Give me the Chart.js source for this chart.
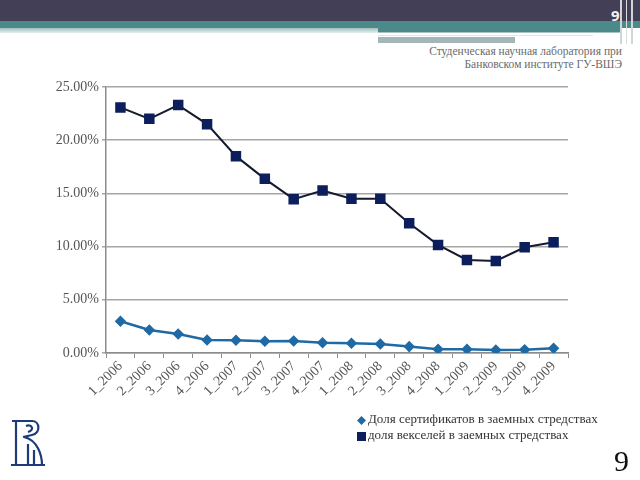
<!DOCTYPE html>
<html>
<head>
<meta charset="utf-8">
<script src="https://cdn.jsdelivr.net/npm/chart.js@4.4.1/dist/chart.umd.min.js"></script>
<style>
  html, body { margin: 0; padding: 0; background: #fff; }
  #page { position: relative; width: 640px; height: 480px; overflow: hidden; font-family: "Liberation Serif", "DejaVu Serif", serif; }
  .band { position: absolute; }
  #chart { position: absolute; left: 0; top: 0; }
  #caption { position: absolute; right: 18px; top: 45px; text-align: right; font-size: 11.5px; line-height: 13px; color: #6b6b6b; }
  #legend { position: absolute; left: 357px; top: 411px; font-size: 13px; line-height: 16px; color: #333; }
  #legend .mk { display: inline-block; margin-right: 2px; vertical-align: middle; }
  #num-top { position: absolute; left: 611px; top: 5px; color: #f0f0f0; font-family: "Open Sans", sans-serif; font-weight: bold; font-size: 15px; }
  #num-bottom { position: absolute; left: 614px; top: 444px; color: #111; font-size: 30px; }
</style>
</head>
<body>
<div id="page">
  <div class="band" style="left:0;top:0;width:640px;height:21px;background:#423f56"></div>
  <div class="band" style="left:0;top:21px;width:640px;height:7px;background:#4b8a88"></div>
  <div class="band" style="left:0;top:28px;width:378px;height:5px;background:linear-gradient(#9cc0bf,#e6efee)"></div>
  <div class="band" style="left:378px;top:28px;width:242px;height:4px;background:#4b8a88"></div>
  <div class="band" style="left:378px;top:32px;width:242px;height:1px;background:#a9c3c2"></div>
  <div class="band" style="left:378px;top:35px;width:215px;height:1px;background:#dfe8e8"></div>
  <div class="band" style="left:378px;top:37px;width:137px;height:6px;background:#a3b7b9"></div>
  <div class="band" style="left:620px;top:0;width:2px;height:44px;background:#cfd6d6"></div>
  <div class="band" style="left:626px;top:0;width:1px;height:44px;background:#d8dddd"></div>
  <div class="band" style="left:631px;top:0;width:2px;height:44px;background:#d0d6d6"></div>
  <div id="num-top">9</div>
  <div id="caption">Студенческая научная лаборатория при<br>Банковском институте ГУ-ВШЭ</div>

  <svg style="position:absolute;left:8px;top:418px" width="40" height="50" viewBox="0 0 40 50">
    <g fill="none" stroke="#1d3a7a" stroke-width="2.2">
      <path d="M4 3 H24 C32 3 33 15 24 17 L15 19"/>
      <path d="M8 3 V47"/>
      <path d="M16 19 C30 22 34 38 34 47"/>
      <path d="M20 26 V47"/>
      <path d="M26 32 V47"/>
      <path d="M3 47 H37"/>
      <path d="M18 8 C24 6 27 12 20 14"/>
    </g>
  </svg>

  <canvas id="chart" width="640" height="480"></canvas>
  <div id="legend"></div>
  <div id="num-bottom">9</div>
</div>

<script>
// quarters
const quarters = [
  "1_2006", "2_2006", "3_2006", "4_2006",
  "1_2007", "2_2007", "3_2007", "4_2007",
  "1_2008", "2_2008", "3_2008", "4_2008",
  "1_2009", "2_2009", "3_2009", "4_2009"
];

// share of certificates in borrowed funds, %
const certShare = [2.98, 2.16, 1.79, 1.22, 1.19, 1.10, 1.13, 0.97, 0.91, 0.85, 0.60, 0.35, 0.35, 0.28, 0.31, 0.44];

// share of bills in borrowed funds, %
const billShare = [23.08, 22.01, 23.30, 21.51, 18.50, 16.37, 14.46, 15.27, 14.49, 14.49, 12.20, 10.16, 8.75, 8.65, 9.94, 10.41];

const seriesNames = ["Доля сертификатов в заемных стредствах", "доля векселей в заемных стредствах"];
const yTicks = [0, 5, 10, 15, 20, 25];

const font = { family: "'Liberation Serif', 'DejaVu Serif', serif", size: 14 };

const chart = new Chart(document.getElementById("chart"), {
  type: "line",
  data: {
    labels: quarters,
    datasets: [
      {
        label: seriesNames[0],
        data: certShare,
        borderColor: "#1f6aa5",
        backgroundColor: "#1f6aa5",
        borderWidth: 2.5,
        pointStyle: "rectRot",
        pointRadius: 4,
        tension: 0
      },
      {
        label: seriesNames[1],
        data: billShare,
        borderColor: "#151a2c",
        backgroundColor: "#0c1f5c",
        pointBorderColor: "#0c1f5c",
        borderWidth: 2,
        pointStyle: "rect",
        pointRadius: 6,
        tension: 0
      }
    ]
  },
  options: {
    responsive: false,
    animation: false,
    layout: { padding: { left: 40, right: 72, top: 87, bottom: 57 } },
    plugins: { legend: { display: false }, tooltip: { enabled: false } },
    scales: {
      x: {
        offset: true,
        afterFit: (s) => { s.height = 70; },
        grid: { offset: true, drawOnChartArea: false, drawTicks: true, tickLength: 5, color: "#8c8c8c" },
        border: { color: "#8c8c8c", width: 1.5 },
        ticks: { minRotation: 45, maxRotation: 45, color: "#555", font: font, padding: 0 }
      },
      y: {
        min: 0,
        max: 25,
        afterFit: (s) => { s.width = 66; },
        afterBuildTicks: (s) => { s.ticks = yTicks.map(v => ({ value: v })); },
        grid: { color: "#a6a6a6", lineWidth: 1.5, tickLength: 4 },
        border: { color: "#8c8c8c", width: 1.5 },
        ticks: { color: "#555", font: font, padding: 3, callback: (v) => v.toFixed(2) + "%" }
      }
    }
  }
});

// legend built from the chart datasets
const legendEl = document.getElementById("legend");
chart.data.datasets.forEach((ds, i) => {
  const row = document.createElement("div");
  const mk = i === 0
    ? '<svg class="mk" width="9" height="9"><polygon points="4.5,0 9,4.5 4.5,9 0,4.5" fill="' + ds.backgroundColor + '"/></svg>'
    : '<svg class="mk" width="9" height="9"><rect width="9" height="9" fill="' + ds.backgroundColor + '"/></svg>';
  row.innerHTML = mk + ds.label;
  legendEl.appendChild(row);
});
</script>
</body>
</html>
